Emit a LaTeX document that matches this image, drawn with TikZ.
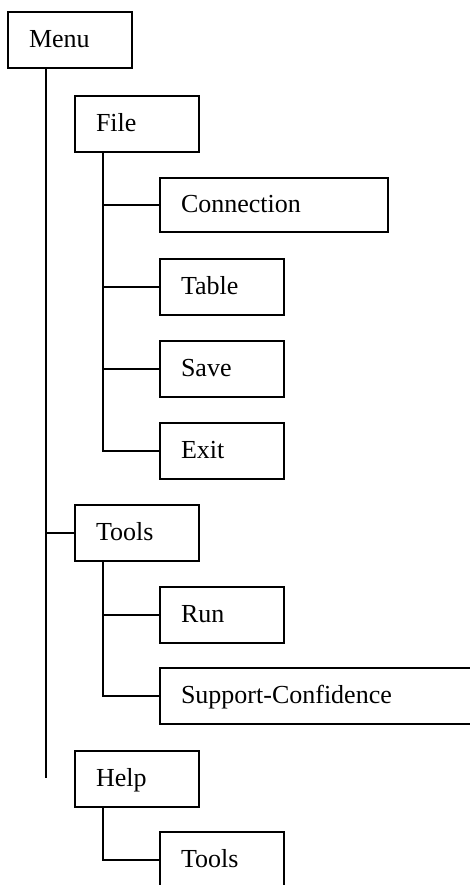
\documentclass[tikz,border=0pt]{standalone}
\usepackage{fontspec}
\setmainfont{Liberation Serif}
\usetikzlibrary{calc}

\begin{document}
\begin{tikzpicture}[x=1pt, y=-1pt,
    menubox/.style={draw, line width=1.6pt, rectangle, anchor=north west, outer sep=0pt,
        inner xsep=21pt, text width=#1, align=left, minimum height=56pt,
        text height=17pt, text depth=2pt, font=\fontsize{26}{30}\selectfont},
    link/.style={line width=1.3pt}]
    \useasboundingbox (0,0) rectangle (470,885);
    \clip (0,0) rectangle (470,885);
    
    % Top level
    \node[menubox=82pt] (menu) at (8,12) {Menu};
    
    % File menu
    \node[menubox=82pt] (file) at (75,96) {File};
    \node[menubox=186pt, minimum height=54pt] (conn) at (160,178) {Connection};
    \node[menubox=82pt] (table) at (160,259) {Table};
    \node[menubox=82pt] (save) at (160,341) {Save};
    \node[menubox=82pt] (exit) at (160,423) {Exit};
    
    % Tools menu
    \node[menubox=82pt] (tools) at (75,505) {Tools};
    \node[menubox=82pt] (run) at (160,587) {Run};
    \node[menubox=300pt] (supp) at (160,668) {Support-Confidence};
    
    % Help menu
    \node[menubox=82pt] (help) at (75,751) {Help};
    \node[menubox=82pt] (htools) at (160,832) {Tools};
    
    % Menu trunk
    \coordinate (menuend) at (46,778);
    \draw[link] (menu.south -| menuend) -- (menuend);
    \draw[link] (tools.west -| menuend) -- (tools.west);
    
    % Submenu trunks
    \coordinate (subx) at (103,0);
    \draw[link] (file.south -| subx) |- (exit.west);
    \foreach \n in {conn, table, save}
        \draw[link] (\n.west -| subx) -- (\n.west);
    \draw[link] (tools.south -| subx) |- (supp.west);
    \draw[link] (run.west -| subx) -- (run.west);
    \draw[link] (help.south -| subx) |- (htools.west);
\end{tikzpicture}
\end{document}
